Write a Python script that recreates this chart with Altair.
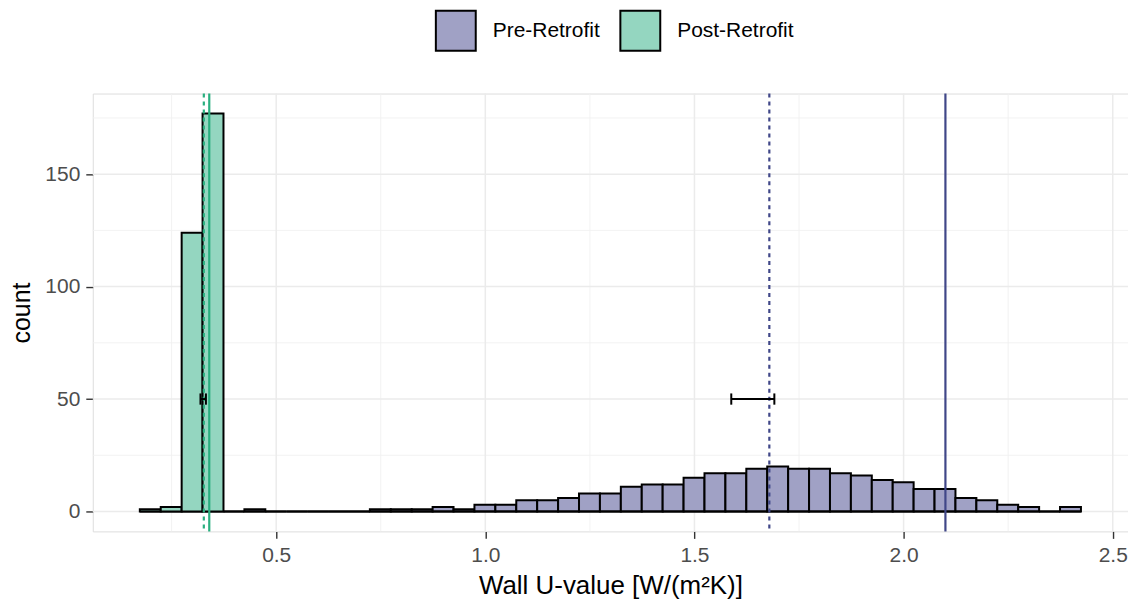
import altair as alt
import pandas as pd

# ---------------- data ----------------
groups = ["Pre-Retrofit", "Post-Retrofit"]
fill_colors = ["#A0A1C5", "#94D6C0"]
line_colors = ["#404788", "#29AF7F"]

BIN_START = 0.174
BIN_WIDTH = 0.05

pre_counts = [0, 0, 0, 0, 0, 1, 0, 0, 0, 0, 0, 1, 1, 1, 2, 1, 3, 3, 5, 5, 6, 8, 8,
              11, 12, 12, 15, 17, 17, 19, 20, 19, 19, 17, 16, 14, 13, 10, 10, 6, 5,
              3, 2, 0, 2]
post_counts = [1, 2, 124, 177, 0, 0, 0, 0, 0, 0, 0, 0, 0, 0, 0, 0, 0, 0, 0, 0, 0,
               0, 0, 0, 0, 0, 0, 0, 0, 0, 0, 0, 0, 0, 0, 0, 0, 0, 0, 0, 0, 0, 0,
               0, 0]

solid_values = [2.10, 0.340]      # reference (solid) lines
dotted_values = [1.679, 0.327]    # mean (dotted) lines
err_low = [1.588, 0.319]
err_high = [1.691, 0.332]
err_y = [50, 50]

x_ticks = [0.5, 1.0, 1.5, 2.0, 2.5]
x_minor = [0.25, 0.75, 1.25, 1.75, 2.25]
y_ticks = [0, 50, 100, 150]
y_minor = [25, 75, 125, 175]

X_DOMAIN = [0.0615, 2.5365]
Y_DOMAIN = [-8.85, 185.85]

# ---------------- tables ----------------
rows = []
for g, counts in zip(groups, [pre_counts, post_counts]):
    for k, c in enumerate(counts):
        lo = round(BIN_START + k * BIN_WIDTH, 4)
        rows.append({"group": g, "lo": lo, "hi": round(lo + BIN_WIDTH, 4),
                     "count": c, "base": 0})
bars_df = pd.DataFrame(rows)

lines_df = pd.DataFrame({"group": groups, "solid": solid_values,
                         "dotted": dotted_values, "lo": err_low,
                         "hi": err_high, "y": err_y,
                         "ylo": [v - 2.5 for v in err_y],
                         "yhi": [v + 2.5 for v in err_y]})

gx_major = pd.DataFrame({"v": x_ticks})
gx_minor = pd.DataFrame({"v": x_minor})
gy_major = pd.DataFrame({"v": y_ticks})
gy_minor = pd.DataFrame({"v": y_minor})

FONT = "Liberation Sans"
xscale = alt.Scale(domain=X_DOMAIN, nice=False, zero=False)
yscale = alt.Scale(domain=Y_DOMAIN, nice=False, zero=False)

x_axis = alt.Axis(values=x_ticks, format=".1f", grid=False, domain=False,
                  title="Wall U-value [W/(m²K)]", titleFontSize=26,
                  titleFontWeight="normal", titleColor="black",
                  titlePadding=7, labelFontSize=21, labelColor="#4D4D4D",
                  labelPadding=6, tickColor="#333333", tickSize=7,
                  tickWidth=1.4, labelFont=FONT, titleFont=FONT)
y_axis = alt.Axis(values=y_ticks, format="d", grid=False, domain=False,
                  title="count", titleFontSize=25, titleFontWeight="normal",
                  titleColor="black", titlePadding=10, labelFontSize=21,
                  labelColor="#4D4D4D", labelPadding=6, tickColor="#333333",
                  tickSize=7, tickWidth=1.4, labelFont=FONT, titleFont=FONT)


def X(field):
    return alt.X(field, type="quantitative", scale=xscale, axis=x_axis)


def Y(field):
    return alt.Y(field, type="quantitative", scale=yscale, axis=y_axis)


grid_x_major = alt.Chart(gx_major).mark_rule(color="#EBEBEB", strokeWidth=1.5).encode(x=X("v"))
grid_x_minor = alt.Chart(gx_minor).mark_rule(color="#F0F0F0", strokeWidth=0.9).encode(x=X("v"))
grid_y_major = alt.Chart(gy_major).mark_rule(color="#EBEBEB", strokeWidth=1.5).encode(y=Y("v"))
grid_y_minor = alt.Chart(gy_minor).mark_rule(color="#F0F0F0", strokeWidth=0.9).encode(y=Y("v"))

bars = alt.Chart(bars_df).mark_rect(stroke="black", strokeWidth=2).encode(
    x=X("lo"), x2="hi", y=Y("count"), y2="base",
    color=alt.Color("group:N",
                    scale=alt.Scale(domain=groups, range=fill_colors),
                    legend=alt.Legend(orient="none", legendX=343, legendY=-84,
                                      direction="horizontal", title=None,
                                      symbolType="square", symbolSize=1600,
                                      symbolStrokeColor="black",
                                      symbolStrokeWidth=2,
                                      symbolOpacity=1,
                                      labelFontSize=21, labelColor="black",
                                      labelFont=FONT, labelOffset=16,
                                      columnPadding=16, padding=0)),
    order=alt.Order("group:N", sort="descending"),
)

stroke_enc = alt.Stroke("group:N", scale=alt.Scale(domain=groups, range=line_colors),
                        legend=None)

solid = alt.Chart(lines_df).mark_rule(strokeWidth=2.2).encode(
    x=X("solid"), stroke=stroke_enc)
dotted = alt.Chart(lines_df).mark_rule(strokeWidth=2.2, strokeDash=[4, 4]).encode(
    x=X("dotted"), stroke=stroke_enc)

err_h = alt.Chart(lines_df).mark_rule(color="black", strokeWidth=2).encode(
    x=X("lo"), x2="hi", y=Y("y"))
err_l = alt.Chart(lines_df).mark_rule(color="black", strokeWidth=2).encode(
    x=X("lo"), y=Y("ylo"), y2="yhi")
err_r = alt.Chart(lines_df).mark_rule(color="black", strokeWidth=2).encode(
    x=X("hi"), y=Y("ylo"), y2="yhi")

chart = alt.layer(grid_x_minor, grid_y_minor, grid_x_major, grid_y_major,
                  bars, solid, dotted, err_h, err_l, err_r).resolve_scale(
    stroke="independent", color="independent"
).properties(
    width=1038, height=439,
    autosize=alt.AutoSizeParams(type="none"),
    padding={"left": 85, "top": 85, "right": 0, "bottom": 68},
).configure_view(
    stroke="#333333", strokeWidth=1.4
).configure(font=FONT)

chart.save("out.html", embed_options={"renderer": "svg", "actions": False})
